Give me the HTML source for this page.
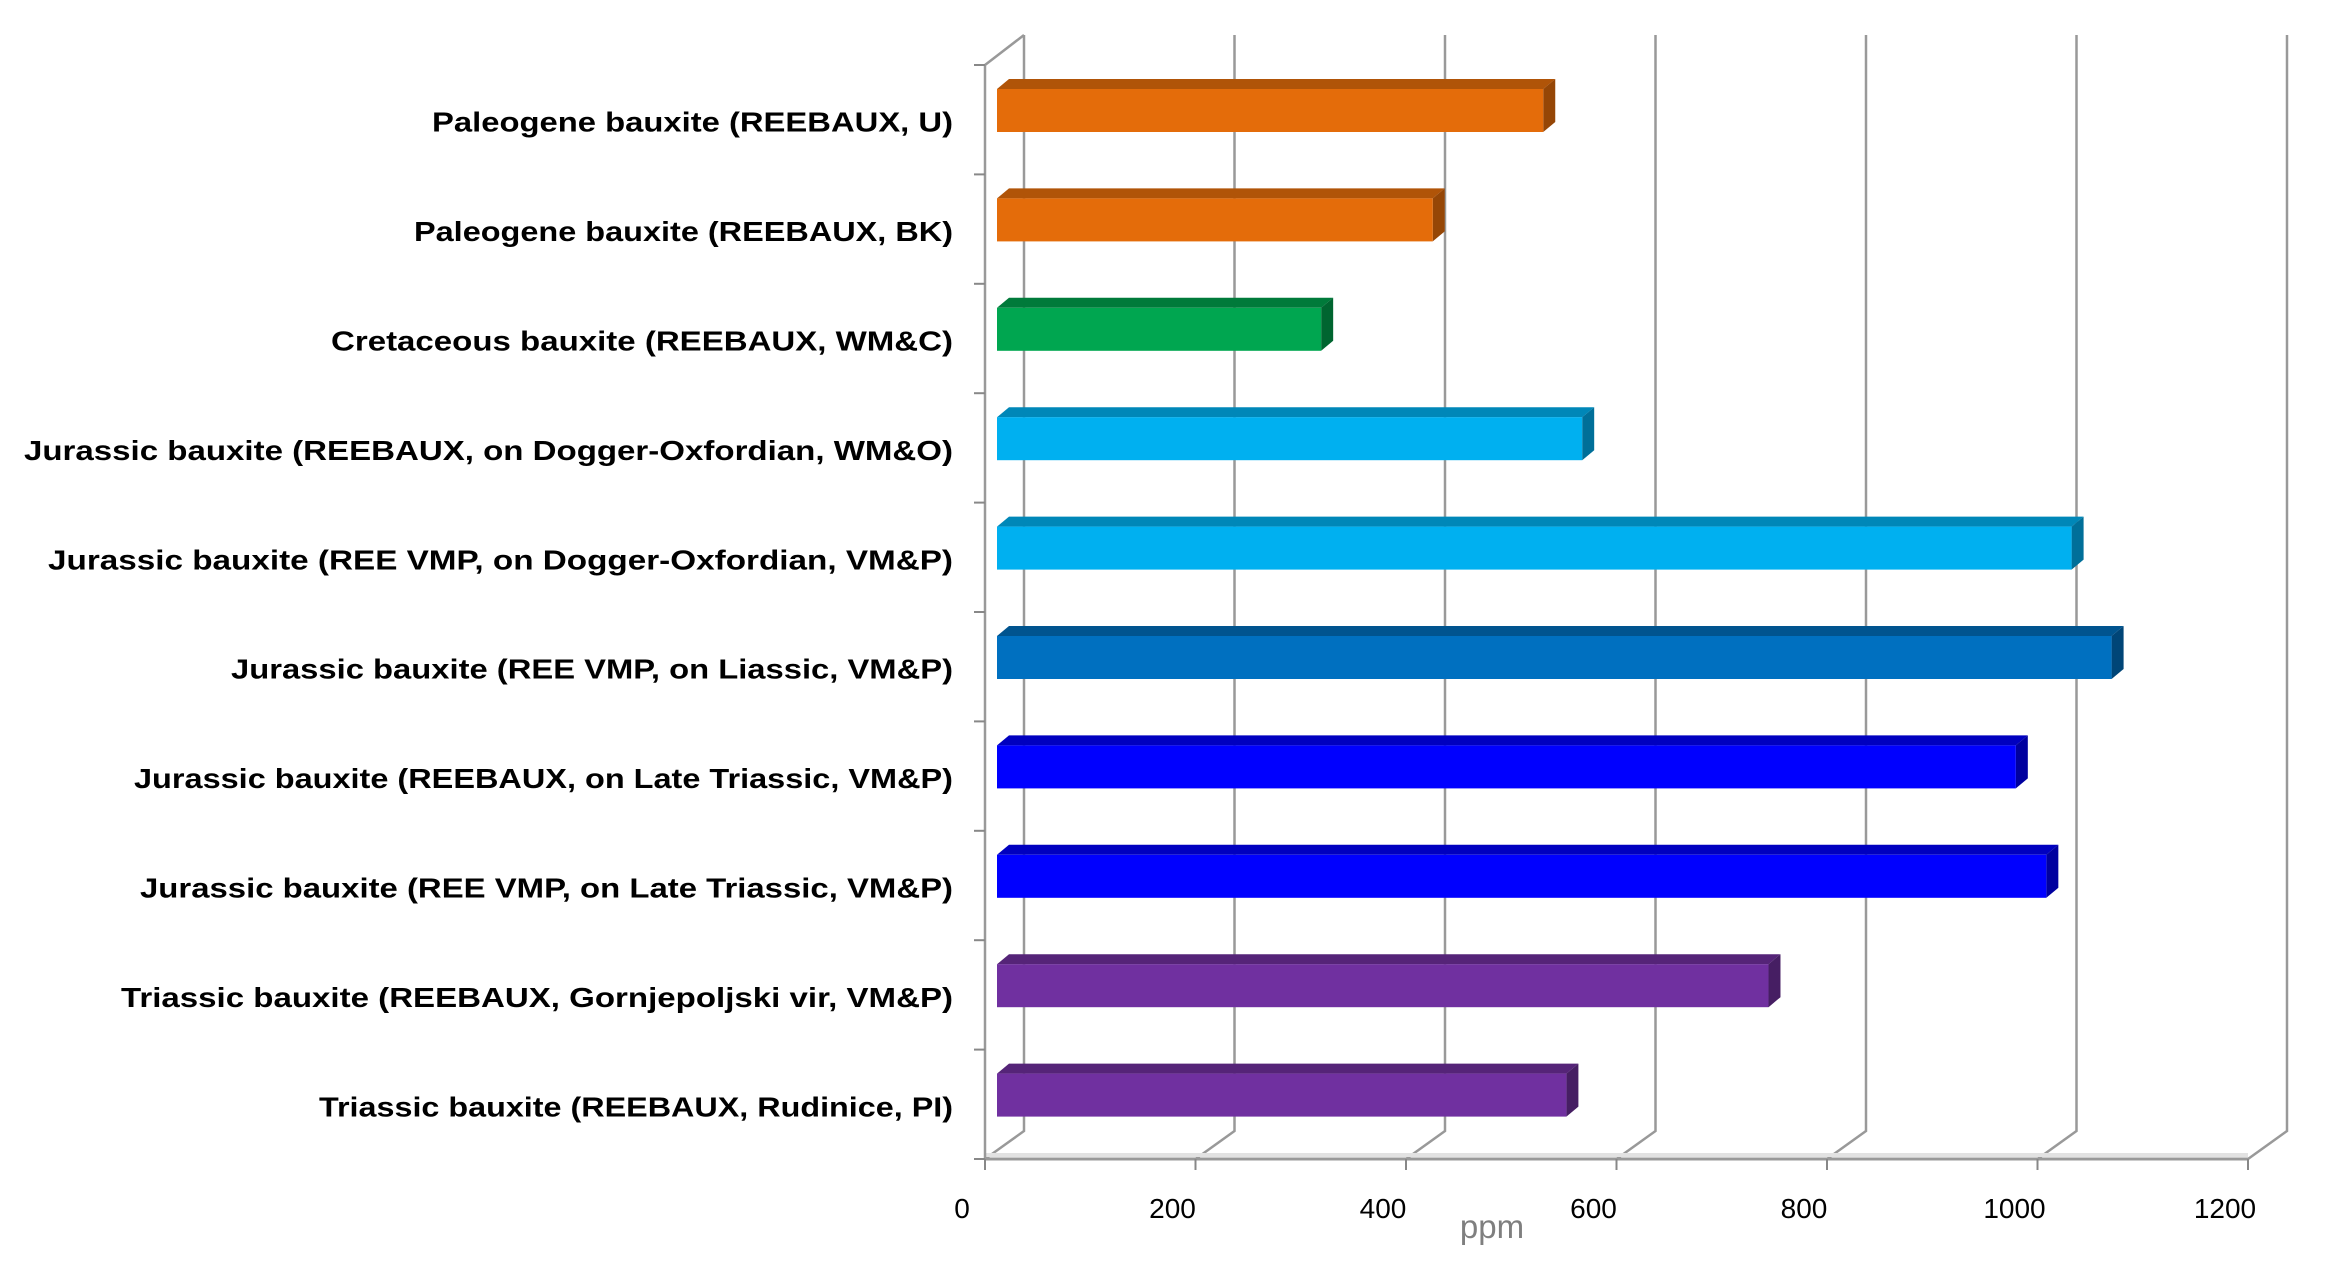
<!DOCTYPE html>
<html><head><meta charset="utf-8"><style>
html,body{margin:0;padding:0;background:#fff;}
svg{display:block;}
</style></head><body>
<svg id="chart" width="2325" height="1269" viewBox="0 0 2325 1269" xmlns="http://www.w3.org/2000/svg">
<g id="grid"></g><g id="bars"></g><g id="labels"></g><g id="ticks"></g>
<text x="1492" y="1238" font-family="Liberation Sans, sans-serif" font-size="33" fill="#7f7f7f" text-anchor="middle">ppm</text>
</svg>
<script>
const categories = [
 "Paleogene bauxite (REEBAUX, U)",
 "Paleogene bauxite (REEBAUX, BK)",
 "Cretaceous bauxite (REEBAUX, WM&C)",
 "Jurassic bauxite (REEBAUX, on Dogger-Oxfordian, WM&O)",
 "Jurassic bauxite (REE VMP, on Dogger-Oxfordian, VM&P)",
 "Jurassic bauxite (REE VMP, on Liassic, VM&P)",
 "Jurassic bauxite (REEBAUX, on Late Triassic, VM&P)",
 "Jurassic bauxite (REE VMP, on Late Triassic, VM&P)",
 "Triassic bauxite (REEBAUX, Gornjepoljski vir, VM&P)",
 "Triassic bauxite (REEBAUX, Rudinice, PI)"
];
const values = [519, 414, 308, 556, 1021, 1059, 968, 997, 733, 541];
const colors = ["#E46C0A","#E46C0A","#00A650","#00B0F0","#00B0F0","#0070C0","#0000FF","#0000FF","#7030A0","#7030A0"];
const tops = ["#B05408","#B05408","#007A3A","#0087B8","#0087B8","#00548F","#0000BF","#0000BF","#552478","#552478"];
const sides = ["#954606","#954606","#006530","#006F99","#006F99","#004577","#00009F","#00009F","#461E63","#461E63"];
const labelWidths = [521,539,622,929,905,722,819,813,832,634];
const xTicks = [0,200,400,600,800,1000,1200];

const NS="http://www.w3.org/2000/svg";
const X0=985, K=1.0525, TOP=65, FLOOR=1159, BDX=39, BDY=28, N=categories.length;
const band=(FLOOR-TOP)/N;
const xs=v=>X0+v*K;
const yc=i=>TOP+i*band;
function mk(tag,attrs,parent){const e=document.createElementNS(NS,tag);for(const k in attrs)e.setAttribute(k,attrs[k]);document.getElementById(parent).appendChild(e);return e;}

xTicks.forEach((t,j)=>{
 const x=xs(t);
 const g=mk('path',{d:`M${x+BDX},${TOP-30} L${x+BDX},${FLOOR-BDY} L${x},${FLOOR}`,stroke:'#999',"stroke-width":2.5,fill:'none'},'grid');
 
 
 const tk=mk('line',{x1:x,y1:FLOOR,x2:x,y2:FLOOR+11,stroke:'#888',"stroke-width":2},'ticks');
 
 
 const tl=mk('text',{x:x-23,y:1218,"font-family":"Liberation Sans, sans-serif","font-size":28,fill:'#000',"text-anchor":'middle'},'ticks');
 tl.textContent=t;
 
 
});
const fl=mk('line',{x1:X0,y1:FLOOR,x2:xs(1200),y2:FLOOR,stroke:'#999',"stroke-width":3},'grid');


const fb=mk('line',{x1:X0,y1:FLOOR-4,x2:xs(1200),y2:FLOOR-4,stroke:'#e2e2e2',"stroke-width":4},'grid');


const ya=mk('path',{d:`M${X0},${FLOOR} L${X0},${TOP} L${X0+BDX},${TOP-30}`,stroke:'#999',"stroke-width":2.5,fill:'none'},'grid');


for(let i=0;i<=N;i++){
 const t=mk('line',{x1:X0-11,y1:yc(i),x2:X0,y2:yc(i),stroke:'#888',"stroke-width":2},'ticks');
 
 
}

categories.forEach((c,i)=>{
 const y=yc(i)+24, h=43, x1=X0+12, x2=xs(values[i])+12, d=12, dy=10;
 const g=mk('g',{},'bars');
 
 
 const top=document.createElementNS(NS,'polygon');
 top.setAttribute('points',`${x1},${y} ${x1+d},${y-dy} ${x2+d},${y-dy} ${x2},${y}`);
 top.setAttribute('fill',tops[i]);
 const side=document.createElementNS(NS,'polygon');
 side.setAttribute('points',`${x2},${y} ${x2+d},${y-dy} ${x2+d},${y+h-dy} ${x2},${y+h}`);
 side.setAttribute('fill',sides[i]);
 const front=document.createElementNS(NS,'rect');
 front.setAttribute('x',x1);front.setAttribute('y',y);front.setAttribute('width',x2-x1);front.setAttribute('height',h);
 front.setAttribute('fill',colors[i]);
 g.appendChild(top);g.appendChild(side);g.appendChild(front);
 const lb=mk('text',{x:953,y:yc(i)+band/2+12,"font-family":"Liberation Sans, sans-serif","font-size":28,"font-weight":"bold",fill:'#000',"text-anchor":'end',textLength:labelWidths[i],lengthAdjust:'spacingAndGlyphs'},'labels');
 lb.textContent=c;
 
 
});
</script>
</body></html>
